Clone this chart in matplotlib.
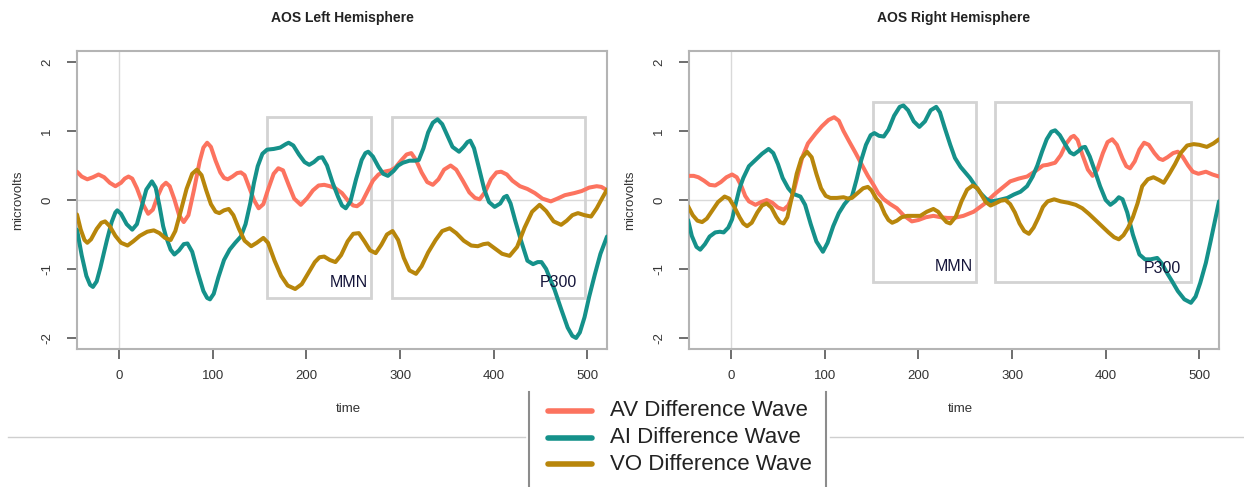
import matplotlib
matplotlib.use("Agg")
import matplotlib.pyplot as plt
from matplotlib.lines import Line2D
from matplotlib.patches import Rectangle

plt.rcParams["font.family"] = ["Liberation Sans", "DejaVu Sans"]

# ---- data (time in ms, amplitude in microvolts) ----
# left hemisphere
L_AV_T = [-45, -40, -34, -28, -22, -16, -10, -4, 2, 6, 10, 14, 19, 25, 31, 36, 41, 46, 50, 54,
          59, 64, 69, 74, 80, 86, 90, 94, 98, 103, 108, 112, 116, 121, 126, 130, 134, 139, 144,
          149, 154, 159, 165, 170, 175, 181, 187, 194, 201, 207, 213, 219, 225, 231, 238, 245,
          250, 254, 259, 265, 271, 277, 283, 290, 295, 301, 307, 312, 317, 323, 329, 335, 341,
          347, 354, 360, 367, 374, 380, 385, 391, 397, 403, 408, 414, 420, 428, 436, 444, 452,
          461, 468, 476, 486, 494, 502, 510, 515, 520]
L_AV_V = [0.41, 0.34, 0.30, 0.33, 0.37, 0.33, 0.25, 0.20, 0.25, 0.31, 0.34, 0.31, 0.17, -0.05,
          -0.20, -0.14, 0.05, 0.20, 0.25, 0.20, 0.01, -0.22, -0.32, -0.22, 0.15, 0.56, 0.76, 0.83,
          0.77, 0.57, 0.40, 0.32, 0.30, 0.34, 0.39, 0.40, 0.36, 0.18, 0.00, -0.12, -0.06, 0.15,
          0.38, 0.46, 0.43, 0.22, 0.02, -0.07, 0.03, 0.14, 0.21, 0.22, 0.20, 0.17, 0.10, -0.02,
          -0.08, -0.09, -0.04, 0.12, 0.28, 0.37, 0.41, 0.43, 0.47, 0.57, 0.66, 0.68, 0.58, 0.40,
          0.26, 0.22, 0.30, 0.44, 0.50, 0.44, 0.28, 0.11, 0.03, 0.01, 0.12, 0.30, 0.40, 0.41,
          0.37, 0.28, 0.20, 0.16, 0.10, 0.02, -0.02, 0.02, 0.07, 0.10, 0.13, 0.18, 0.20, 0.19,
          0.15]
L_AI_T = [-45, -40, -35, -31, -28, -24, -20, -16, -13, -8, -4, -2, 2, 8, 14, 19, 24, 29, 35, 39,
          43, 47, 50, 55, 59, 64, 69, 73, 78, 84, 90, 94, 97, 101, 106, 112, 118, 124, 130, 135,
          140, 144, 148, 153, 158, 165, 172, 178, 181, 186, 192, 198, 203, 208, 213, 217, 222,
          228, 234, 238, 242, 247, 253, 259, 263, 266, 271, 277, 282, 287, 293, 298, 303, 310,
          316, 320, 325, 330, 335, 340, 345, 351, 356, 363, 368, 372, 375, 379, 384, 390, 395,
          401, 407, 411, 414, 418, 423, 429, 436, 442, 447, 451, 456, 461, 465, 472, 479, 484,
          488, 492, 497, 502, 508, 514, 521]
L_AI_V = [-0.43, -0.80, -1.10, -1.23, -1.26, -1.18, -0.98, -0.75, -0.58, -0.32, -0.18, -0.15,
          -0.20, -0.35, -0.43, -0.35, -0.10, 0.15, 0.27, 0.18, -0.08, -0.38, -0.53, -0.72, -0.79,
          -0.73, -0.64, -0.63, -0.75, -1.05, -1.32, -1.42, -1.44, -1.36, -1.12, -0.87, -0.72,
          -0.62, -0.53, -0.35, -0.05, 0.25, 0.49, 0.67, 0.73, 0.74, 0.76, 0.81, 0.83, 0.79, 0.66,
          0.55, 0.51, 0.55, 0.61, 0.62, 0.50, 0.25, 0.04, -0.08, -0.12, -0.02, 0.30, 0.58, 0.68,
          0.70, 0.63, 0.48, 0.38, 0.35, 0.42, 0.50, 0.54, 0.57, 0.57, 0.58, 0.75, 0.98, 1.12,
          1.17, 1.10, 0.92, 0.77, 0.70, 0.77, 0.84, 0.86, 0.75, 0.48, 0.15, -0.03, -0.10, -0.05,
          0.04, 0.06, -0.05, -0.30, -0.58, -0.88, -0.93, -0.90, -0.90, -1.00, -1.17, -1.30, -1.58,
          -1.85, -1.97, -2.00, -1.92, -1.70, -1.40, -1.08, -0.78, -0.53]
L_VO_T = [-45, -41, -37, -34, -30, -24, -19, -15, -10, -4, 2, 9, 15, 22, 30, 37, 43, 49, 55, 60,
          66, 72, 78, 83, 88, 93, 98, 103, 107, 112, 117, 122, 128, 134, 141, 147, 154, 159, 166,
          173, 180, 188, 195, 202, 209, 214, 219, 225, 231, 237, 244, 250, 256, 262, 268, 274,
          280, 286, 292, 298, 304, 310, 317, 323, 330, 338, 345, 353, 360, 368, 376, 383, 389,
          394, 401, 409, 417, 425, 433, 441, 449, 456, 464, 472, 478, 484, 490, 497, 504, 510,
          516, 521]
L_VO_V = [-0.21, -0.43, -0.58, -0.62, -0.57, -0.42, -0.33, -0.31, -0.38, -0.52, -0.62, -0.66,
          -0.60, -0.52, -0.46, -0.44, -0.48, -0.55, -0.58, -0.45, -0.15, 0.16, 0.38, 0.44, 0.36,
          0.14, -0.06, -0.17, -0.19, -0.15, -0.13, -0.22, -0.42, -0.59, -0.67, -0.62, -0.55,
          -0.62, -0.88, -1.10, -1.24, -1.29, -1.22, -1.06, -0.90, -0.83, -0.82, -0.87, -0.90,
          -0.80, -0.60, -0.49, -0.48, -0.60, -0.73, -0.77, -0.65, -0.50, -0.45, -0.58, -0.84,
          -1.02, -1.07, -0.96, -0.76, -0.58, -0.45, -0.41, -0.48, -0.59, -0.66, -0.67, -0.64,
          -0.63, -0.70, -0.78, -0.81, -0.68, -0.40, -0.17, -0.07, -0.16, -0.31, -0.36, -0.30,
          -0.22, -0.19, -0.22, -0.24, -0.12, 0.03, 0.15]

# right hemisphere
R_AV_T = [-46, -40, -35, -29, -23, -17, -11, -5, 1, 6, 11, 15, 19, 26, 32, 38, 44, 50, 56, 61,
          66, 71, 76, 82, 90, 97, 104, 110, 115, 120, 126, 133, 140, 146, 152, 157, 163, 170,
          177, 184, 193, 200, 208, 216, 224, 231, 238, 248, 259, 270, 281, 289, 298, 307, 316,
          325, 333, 338, 346, 352, 358, 363, 366, 370, 375, 381, 386, 391, 397, 402, 407, 412,
          418, 422, 426, 431, 436, 441, 446, 452, 457, 461, 466, 472, 477, 482, 488, 493, 499,
          507, 514, 521]
R_AV_V = [0.35, 0.35, 0.33, 0.28, 0.22, 0.21, 0.26, 0.33, 0.37, 0.33, 0.20, 0.06, -0.02, -0.07,
          -0.03, 0.00, -0.04, -0.11, -0.14, -0.08, 0.08, 0.35, 0.62, 0.82, 0.96, 1.07, 1.16,
          1.20, 1.15, 1.00, 0.85, 0.68, 0.50, 0.35, 0.22, 0.10, 0.01, -0.06, -0.12, -0.22, -0.31,
          -0.29, -0.25, -0.23, -0.25, -0.26, -0.26, -0.23, -0.17, -0.06, 0.08, 0.17, 0.27, 0.31,
          0.34, 0.42, 0.50, 0.51, 0.54, 0.65, 0.82, 0.91, 0.93, 0.87, 0.66, 0.44, 0.35, 0.44,
          0.68, 0.84, 0.88, 0.80, 0.60, 0.49, 0.46, 0.56, 0.73, 0.83, 0.80, 0.68, 0.60, 0.58,
          0.62, 0.68, 0.70, 0.63, 0.50, 0.41, 0.38, 0.41, 0.37, 0.34]
R_AI_T = [-46, -42, -37, -33, -28, -23, -17, -12, -8, -3, 1, 5, 9, 13, 19, 26, 33, 40, 45, 50,
          55, 61, 66, 70, 74, 79, 85, 91, 98, 103, 109, 115, 121, 126, 129, 134, 139, 144, 149,
          153, 158, 163, 168, 174, 180, 184, 189, 195, 201, 207, 213, 219, 223, 228, 234, 239,
          245, 250, 255, 261, 267, 272, 277, 283, 289, 295, 302, 309, 316, 322, 327, 332, 337,
          342, 346, 351, 357, 362, 366, 371, 375, 378, 383, 389, 394, 400, 405, 410, 414, 418,
          423, 429, 436, 442, 448, 455, 460, 466, 471, 477, 484, 491, 496, 501, 507, 512, 517,
          521]
R_AI_V = [-0.29, -0.52, -0.68, -0.72, -0.64, -0.53, -0.47, -0.46, -0.47, -0.40, -0.28, -0.05,
          0.17, 0.32, 0.49, 0.58, 0.67, 0.74, 0.68, 0.52, 0.32, 0.17, 0.09, 0.07, 0.05, -0.07,
          -0.35, -0.60, -0.75, -0.62, -0.38, -0.19, -0.06, 0.02, 0.05, 0.30, 0.58, 0.80, 0.94,
          0.97, 0.93, 0.92, 1.02, 1.22, 1.35, 1.37, 1.30, 1.14, 1.06, 1.14, 1.30, 1.35, 1.27,
          1.05, 0.80, 0.61, 0.48, 0.40, 0.32, 0.20, 0.09, 0.02, -0.02, -0.01, 0.01, 0.03, 0.08,
          0.12, 0.20, 0.34, 0.50, 0.70, 0.88, 0.99, 1.01, 0.94, 0.80, 0.69, 0.66, 0.71, 0.76,
          0.77, 0.63, 0.40, 0.20, 0.00, -0.07, -0.02, 0.04, 0.01, -0.18, -0.50, -0.79, -0.86,
          -0.86, -0.84, -0.92, -1.07, -1.18, -1.32, -1.44, -1.49, -1.40, -1.20, -0.91, -0.60,
          -0.28, -0.02]
R_VO_T = [-46, -41, -36, -31, -26, -20, -14, -7, -2, 3, 9, 13, 17, 22, 28, 33, 38, 43, 48, 52,
          56, 60, 65, 70, 75, 81, 86, 91, 96, 101, 106, 113, 120, 125, 129, 135, 141, 146, 150,
          155, 159, 164, 168, 172, 177, 182, 188, 195, 202, 209, 216, 221, 226, 230, 234, 240,
          246, 252, 258, 263, 268, 272, 277, 282, 288, 293, 298, 303, 308, 313, 318, 323, 328,
          333, 338, 345, 352, 360, 368, 375, 382, 389, 396, 403, 409, 414, 419, 424, 429, 434,
          439, 445, 451, 457, 462, 468, 474, 480, 487, 494, 500, 508, 515, 521]
R_VO_V = [-0.09, -0.22, -0.30, -0.32, -0.27, -0.15, -0.03, 0.05, 0.02, -0.09, -0.25, -0.34,
          -0.38, -0.33, -0.18, -0.08, -0.05, -0.11, -0.24, -0.32, -0.34, -0.25, 0.05, 0.38, 0.60,
          0.70, 0.62, 0.38, 0.17, 0.06, 0.03, 0.03, 0.04, 0.02, 0.03, 0.10, 0.17, 0.19, 0.14,
          0.02, -0.04, -0.20, -0.29, -0.33, -0.30, -0.25, -0.23, -0.23, -0.23, -0.17, -0.13,
          -0.17, -0.26, -0.32, -0.34, -0.24, -0.02, 0.15, 0.21, 0.17, 0.06, -0.03, -0.08, -0.05,
          -0.01, 0.00, -0.06, -0.18, -0.34, -0.45, -0.49, -0.40, -0.26, -0.10, -0.02, 0.01,
          -0.02, -0.04, -0.07, -0.12, -0.20, -0.29, -0.38, -0.47, -0.54, -0.57, -0.51, -0.40,
          -0.25, -0.05, 0.20, 0.30, 0.33, 0.29, 0.25, 0.38, 0.52, 0.68, 0.79, 0.81, 0.80, 0.77,
          0.82, 0.88]

LABELS = ["AV Difference Wave", "AI Difference Wave", "VO Difference Wave"]
COLORS = ["#fc735f", "#15918a", "#b8860b"]

# windows: (t0, t1, v0, v1)
L_MMN = (158, 269, -1.42, 1.2)
L_P300 = (291, 498, -1.42, 1.2)
R_MMN = (151, 261, -1.19, 1.42)
R_P300 = (282, 491, -1.19, 1.42)

W, H = 1244, 487
fig = plt.figure(figsize=(W / 100, H / 100), dpi=100)
FRAME = "#b4b4b4"


def panel(left_px, title, series, mmn, p300, mmn_pos, p300_pos):
    ax = fig.add_axes([left_px / W, 1 - 349 / H, 530 / W, 298 / H])
    ax.set_xlim(-45, 521)
    ax.set_ylim(-2.16, 2.16)
    ax.axhline(0, color="#d9d9d9", lw=1, zorder=1)
    ax.axvline(0, color="#d9d9d9", lw=1, zorder=1)
    for (t0, t1, v0, v1) in (mmn, p300):
        ax.add_patch(Rectangle((t0, v0), t1 - t0, v1 - v0, fill=False,
                               ec="#d3d3d3", lw=2, zorder=2))
    for (t, v), c in zip(series, COLORS):
        ax.plot(t, v, color=c, lw=2.9, solid_joinstyle="round",
                solid_capstyle="round", zorder=3)
    ax.text(mmn_pos[0], mmn_pos[1], "MMN", ha="right", va="center",
            fontsize=11.5, color="#15153a", zorder=4)
    ax.text(p300_pos[0], p300_pos[1], "P300", ha="right", va="center",
            fontsize=11.5, color="#15153a", zorder=4)
    for s in ax.spines.values():
        s.set_color(FRAME)
        s.set_linewidth(1.5)
    ax.set_xticks([0, 100, 200, 300, 400, 500])
    ax.set_yticks([-2, -1, 0, 1, 2])
    ax.set_yticklabels(["-2", "-1", "0", "1", "2"], rotation=90, va="center")
    ax.tick_params(colors="#555555", labelcolor="#333333", labelsize=9.5,
                   length=7, width=1.2, pad=6)
    ax.tick_params(axis="x", pad=8)
    ax.tick_params(axis="y", pad=10)
    cx = (left_px + 265) / W
    fig.text(cx, 1 - 18 / H, title, ha="center", va="center",
             fontsize=10, fontweight="bold", color="#222222")
    fig.text(cx + 6 / W, 1 - 409 / H, "time", ha="center", va="center",
             fontsize=9.5, color="#333333")
    fig.text((left_px - 59) / W, 1 - 200 / H, "microvolts", ha="center",
             va="center", rotation=90, fontsize=9.5, color="#333333")
    return ax


panel(77, "AOS Left Hemisphere",
      [(L_AV_T, L_AV_V), (L_AI_T, L_AI_V), (L_VO_T, L_VO_V)],
      L_MMN, L_P300, (266, -1.19), (489, -1.19))
panel(689, "AOS Right Hemisphere",
      [(R_AV_T, R_AV_V), (R_AI_T, R_AI_V), (R_VO_T, R_VO_V)],
      R_MMN, R_P300, (258, -0.97), (480, -0.99))

# ---- legend area with its odd frame pieces ----
def fx(px):
    return px / W


def fy(py):
    return 1 - py / H


fig.add_artist(Line2D([fx(8), fx(525)], [fy(437), fy(437)], color="#cfcfcf", lw=1))
fig.add_artist(Line2D([fx(830), fx(1244)], [fy(437), fy(437)], color="#cfcfcf", lw=1))
fig.add_artist(Line2D([fx(529), fx(529)], [fy(392), fy(487)], color="#8c8c8c", lw=1.5))
fig.add_artist(Line2D([fx(826), fx(826)], [fy(392), fy(487)], color="#8c8c8c", lw=1.5))
for i, (lab, c) in enumerate(zip(LABELS, COLORS)):
    ypx = 411 + i * 26.7
    fig.add_artist(Line2D([fx(548), fx(592)], [fy(ypx), fy(ypx)], color=c, lw=4,
                          solid_capstyle="round"))
    fig.text(fx(610), fy(ypx), lab, ha="left", va="center", fontsize=16,
             color="#222222")

fig.savefig("out.png", dpi=100)
